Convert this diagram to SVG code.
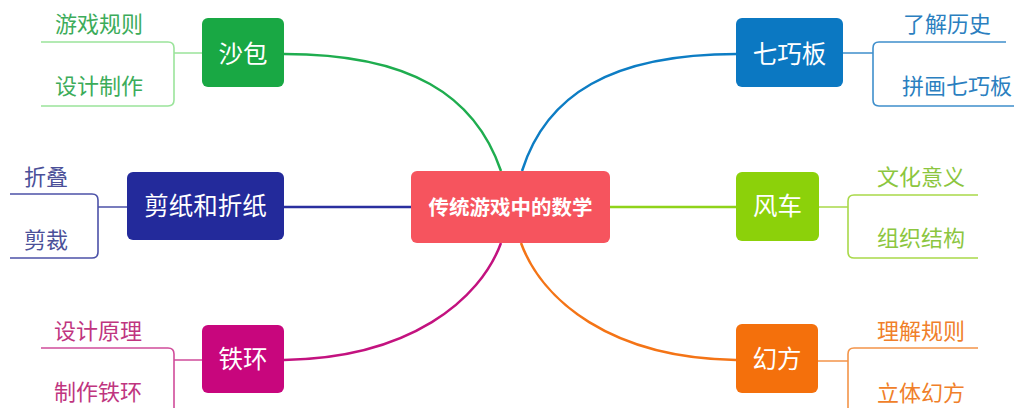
<svg xmlns="http://www.w3.org/2000/svg" width="1016" height="408" viewBox="0 0 1016 408">
<style>
text{font-family:"Noto Sans CJK SC","Noto Sans",sans-serif}
.nt{fill:#fff;font-size:24.5px;text-anchor:middle}
.ct{fill:#fff;font-size:20.5px;font-weight:bold;text-anchor:middle}
.st{font-size:22px}
.conn{fill:none;stroke-width:2.5}
.br{fill:none;stroke-width:1.6}
</style>
<rect width="1016" height="408" fill="#fff"/>
<g id="connectors">
<path class="conn" stroke="#1fad4f" d="M284,54 C410,54 475,95 501,171"/>
<path class="conn" stroke="#0d7dc4" d="M737,54 C611,54 546,95 522,171"/>
<path class="conn" stroke="#2a2f9f" d="M284,207 H411"/>
<path class="conn" stroke="#8fd31a" d="M610,207 H736"/>
<path class="conn" stroke="#c3127f" d="M284,360 C410,358 480,300 501,243"/>
<path class="conn" stroke="#f47416" d="M736,360 C610,358 542,300 521,243"/>
</g>
<g id="center">
<rect x="411" y="171" width="199" height="72" rx="6" fill="#f6545e"/>
<text class="ct" x="510.5" y="214.5">传统游戏中的数学</text>
</g>
<g id="shabao">
<rect x="202" y="18" width="82" height="69" rx="6" fill="#19a844"/>
<text class="nt" x="243" y="62.5">沙包</text>
<path class="br" stroke="#9be49b" d="M41,42 H168 Q174,42 174,48 V100 Q174,106 168,106 H41 M174,53 H202"/>
<text class="st" fill="#3cac5a" x="55" y="32">游戏规则</text>
<text class="st" fill="#3cac5a" x="55" y="94">设计制作</text>
</g>
<g id="qiqiaoban">
<rect x="736" y="18" width="107" height="69" rx="6" fill="#0b78c2"/>
<text class="nt" x="789.5" y="62.5">七巧板</text>
<path class="br" stroke="#3f8fcc" d="M1006,42 H879 Q873,42 873,48 V100 Q873,106 879,106 H1014 M843,53 H873"/>
<text class="st" fill="#2b7fc0" x="903" y="32">了解历史</text>
<text class="st" fill="#2b7fc0" x="902" y="94">拼画七巧板</text>
</g>
<g id="jianzhi">
<rect x="127" y="172" width="157" height="68" rx="6" fill="#232a9b"/>
<text class="nt" x="205.5" y="215">剪纸和折纸</text>
<path class="br" stroke="#4c52a8" d="M10,194 H92 Q98,194 98,200 V252 Q98,258 92,258 H10 M98,207 H127"/>
<text class="st" fill="#4b5099" x="24" y="185">折叠</text>
<text class="st" fill="#4b5099" x="24" y="248">剪裁</text>
</g>
<g id="fengche">
<rect x="736" y="172" width="83" height="69" rx="6" fill="#8cd10a"/>
<text class="nt" x="777.5" y="215">风车</text>
<path class="br" stroke="#a9d94a" d="M978,195 H854 Q848,195 848,201 V252 Q848,258 854,258 H978 M819,207 H848"/>
<text class="st" fill="#8cc63f" x="877" y="185">文化意义</text>
<text class="st" fill="#8cc63f" x="877" y="246">组织结构</text>
</g>
<g id="tiehuan">
<rect x="202" y="325" width="82" height="68" rx="6" fill="#c8067d"/>
<text class="nt" x="243" y="368">铁环</text>
<path class="br" stroke="#d04c9a" d="M41,348 H168 Q174,348 174,354 V420 M174,360 H202"/>
<text class="st" fill="#c0357f" x="54" y="339">设计原理</text>
<text class="st" fill="#c0357f" x="54" y="400">制作铁环</text>
</g>
<g id="huanfang">
<rect x="736" y="324" width="82" height="69" rx="6" fill="#f4700c"/>
<text class="nt" x="777" y="367.5">幻方</text>
<path class="br" stroke="#f39449" d="M978,348 H854 Q848,348 848,354 V420 M818,361 H848"/>
<text class="st" fill="#f07f2a" x="877" y="339">理解规则</text>
<text class="st" fill="#f07f2a" x="877" y="401">立体幻方</text>
</g>
</svg>
